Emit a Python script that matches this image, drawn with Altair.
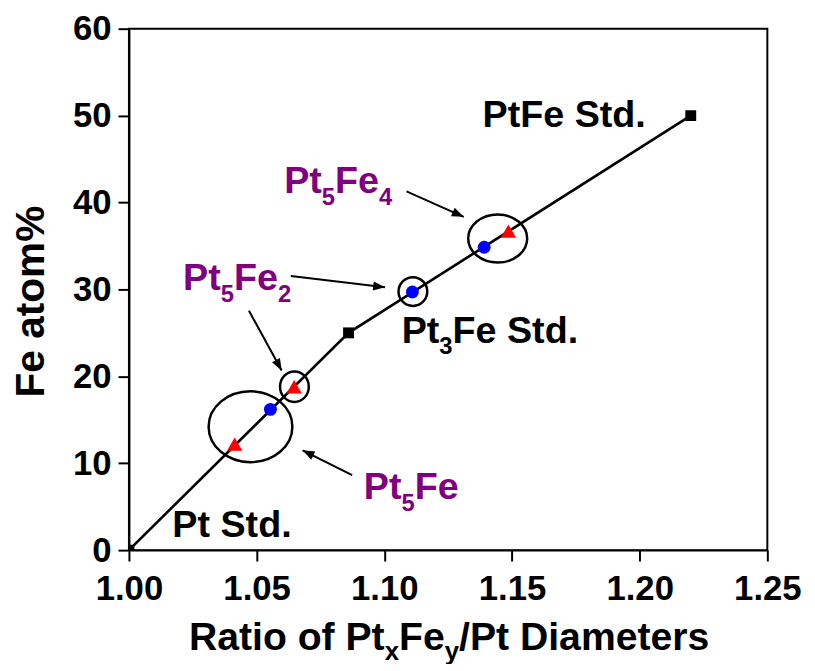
import altair as alt
import pandas as pd

# ---------------- data ----------------
std_x = [1.000, 1.086, 1.220]          # Pt, Pt3Fe, PtFe standards
std_y = [0.0, 25.0, 50.0]
blue_x = [1.0554, 1.1110, 1.1391]
blue_y = [16.2, 29.7, 34.85]
red_x = [1.0414, 1.0647, 1.1486]
red_y = [12.2, 18.8, 36.7]

# circled groups (centre in data units)
ell_x = [1.0476, 1.0648, 1.1112, 1.1444]
ell_y = [14.2, 18.8, 29.75, 35.85]

# arrows (tail -> tip, data units)
arr_x1 = [1.1087, 1.0634, 1.0470, 1.0874]
arr_y1 = [41.27, 31.54, 27.55, 8.64]
arr_x2 = [1.1311, 1.1003, 1.0598, 1.0680]
arr_y2 = [38.35, 30.24, 20.66, 11.49]

# labels: segments (text, is_subscript)
label_segs = [
    [("PtFe Std.", 0)],
    [("Pt", 0), ("3", 1), ("Fe Std.", 0)],
    [("Pt Std.", 0)],
    [("Pt", 0), ("5", 1), ("Fe", 0), ("4", 1)],
    [("Pt", 0), ("5", 1), ("Fe", 0), ("2", 1)],
    [("Pt", 0), ("5", 1), ("Fe", 0)],
]
label_x = [1.1385, 1.1068, 1.0170, 1.0608, 1.0212, 1.0920]
label_y = [48.74, 23.88, 1.56, 41.13, 29.95, 5.88]
label_purple = [0, 0, 0, 1, 1, 1]

x_ticks = [1.00, 1.05, 1.10, 1.15, 1.20, 1.25]
y_ticks = [0, 10, 20, 30, 40, 50, 60]
x_title_segs = [("Ratio of Pt", 0), ("x", 1), ("Fe", 0), ("y", 1), ("/Pt Diameters", 0)]
y_title = "Fe atom%"

# ---------------- styles ----------------
W_PX, H_PX = 644, 526
X_DOM, Y_DOM = [1.0, 1.25], [0, 60]
PX_PER_X = W_PX / (X_DOM[1] - X_DOM[0])
PX_PER_Y = H_PX / (Y_DOM[1] - Y_DOM[0])
FONT = "Liberation Sans"
MAIN_FS, SUB_FS, SUB_DROP = 38, 24, 12
PURPLE = "#800080"
ell_w = [84.5, 29, 29, 59.5]
ell_ratio = [0.846, 1.06, 1.0, 0.815]
arrow_angle = [114.0, 96.8, 151.5, 296.6]

ARIAL_B = {" ": .278, "%": .889, ".": .278, "/": .278, "A": .722, "D": .722,
           "F": .611, "P": .667, "R": .722, "S": .667, "a": .556, "d": .611,
           "e": .556, "f": .333, "i": .278, "m": .889, "n": .611, "o": .611,
           "r": .389, "s": .556, "t": .333, "x": .556, "y": .556}


def text_w(s, fs):
    return sum(ARIAL_B.get(c, .556) for c in s) * fs


def build_pieces(segs, x0, y0, color, main_fs, sub_fs, drop_px):
    rows, x = [], x0
    for s, sub in segs:
        fs = sub_fs if sub else main_fs
        rows.append(dict(x=x, y=y0 - (drop_px / PX_PER_Y if sub else 0), t=s, fs=fs, c=color))
        x += text_w(s, fs) / PX_PER_X
    return rows


def ellipse_path(r):
    k = 0.5523
    return (f"M 1 0 C 1 {k*r:.4f} {k:.4f} {r:.4f} 0 {r:.4f} "
            f"C {-k:.4f} {r:.4f} -1 {k*r:.4f} -1 0 "
            f"C -1 {-k*r:.4f} {-k:.4f} {-r:.4f} 0 {-r:.4f} "
            f"C {k:.4f} {-r:.4f} 1 {-k*r:.4f} 1 0 Z")


ARROW_HEAD = "M 0 0 L -0.38 1 L 0.38 1 Z"

# ---------------- tables ----------------
std_df = pd.DataFrame({"x": std_x, "y": std_y})
blue_df = pd.DataFrame({"x": blue_x, "y": blue_y})
red_df = pd.DataFrame({"x": red_x, "y": red_y})
ell_df = pd.DataFrame({"x": ell_x, "y": ell_y,
                       "shape": [ellipse_path(r) for r in ell_ratio],
                       "size": [w * w for w in ell_w]})
arr_df = pd.DataFrame({"x": arr_x1, "y": arr_y1, "x2": arr_x2, "y2": arr_y2,
                       "ang": arrow_angle})

rows = []
for segs, lx, ly, pu in zip(label_segs, label_x, label_y, label_purple):
    rows += build_pieces(segs, lx, ly, PURPLE if pu else "black", MAIN_FS, SUB_FS, SUB_DROP)
# x-axis title placed below the axis (data units beyond the domain)
rows += build_pieces(x_title_segs, 1.0235, -11.5, "black", 39.5, 26, 10)
txt_df = pd.DataFrame(rows)

xs = alt.Scale(domain=X_DOM, nice=False, zero=False)
ys = alt.Scale(domain=Y_DOM, nice=False)
X = alt.X("x:Q", scale=xs, axis=alt.Axis(values=x_ticks, format=".2f", title=None,
                                          labelPadding=11, tickSize=11))
Y = alt.Y("y:Q", scale=ys, axis=alt.Axis(values=y_ticks, title=None,
                                          labelPadding=7, tickSize=11))

line = alt.Chart(std_df).mark_line(color="black", strokeWidth=2.6).encode(x=X, y=Y)
ells = alt.Chart(ell_df).mark_point(filled=False, color="black", strokeWidth=2.5, opacity=1).encode(
    x="x:Q", y="y:Q",
    shape=alt.Shape("shape:N", scale=None),
    size=alt.Size("size:Q", scale=None))
squares = alt.Chart(std_df).mark_point(shape="square", filled=True, color="black",
                                       size=121, opacity=1, clip=True).encode(x="x:Q", y="y:Q")
blues = alt.Chart(blue_df).mark_point(shape="circle", filled=True, color="#0000ff",
                                      size=169, opacity=1).encode(x="x:Q", y="y:Q")
reds = alt.Chart(red_df).mark_point(shape="triangle-up", filled=True, color="#ff0000",
                                    size=240, opacity=1).encode(x="x:Q", y="y:Q")
rules = alt.Chart(arr_df).mark_rule(color="black", strokeWidth=2).encode(
    x="x:Q", y="y:Q", x2="x2:Q", y2="y2:Q")
heads = alt.Chart(arr_df).mark_point(shape=ARROW_HEAD, filled=True, color="black",
                                     size=576, opacity=1).encode(
    x="x2:Q", y="y2:Q", angle=alt.Angle("ang:Q", scale=None))
texts = alt.Chart(txt_df).mark_text(font=FONT, fontWeight="bold", align="left",
                                    baseline="alphabetic").encode(
    x="x:Q", y="y:Q", text="t:N",
    size=alt.Size("fs:Q", scale=None),
    color=alt.Color("c:N", scale=None))
ytitle = alt.Chart(pd.DataFrame({"x": [0.96196], "y": [28.6], "t": [y_title]})).mark_text(
    font=FONT, fontWeight="bold", fontSize=41, angle=270, align="center",
    baseline="middle", color="black").encode(x="x:Q", y="y:Q", text="t:N")

chart = alt.layer(line, ells, squares, blues, reds, rules, heads, texts, ytitle).properties(
    width=W_PX, height=H_PX,
    autosize=alt.AutoSizeParams(type="none"),
    padding={"left": 122, "top": 18, "right": 40, "bottom": 112},
).configure_view(stroke="black", strokeWidth=2).configure_axis(
    grid=False, labelFont=FONT, labelFontWeight="bold", labelFontSize=35,
    labelColor="black", domainColor="black", domainWidth=2, tickColor="black",
    tickWidth=2, labelFlush=False, labelOverlap=False
)

chart.save("out.html", embed_options={"renderer": "svg", "actions": False})
